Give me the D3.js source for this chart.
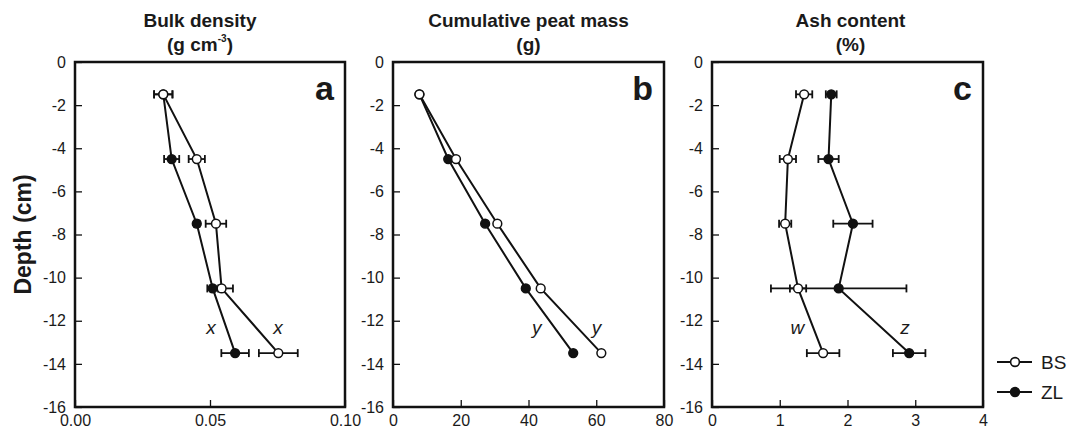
<!DOCTYPE html>
<html>
<head>
<meta charset="utf-8">
<script src="https://cdn.jsdelivr.net/npm/d3@7"></script>
<style>
  body { margin: 0; background: #fff; }
  svg text { font-family: "Liberation Sans", Arial, sans-serif; fill: #1a1a1a; }
</style>
</head>
<body>
<div id="d3-container"></div>
<script>
/**
 * DATA
 * */
const depths = [-1.5, -4.5, -7.5, -10.5, -13.5];
const depthTicks = [0, -2, -4, -6, -8, -10, -12, -14, -16];

const bulkTicks = [0, 0.05, 0.1];
const bulkBS = [0.0327, 0.0451, 0.0522, 0.0543, 0.0753];
const bulkBSErr = [0.0034, 0.003, 0.0038, 0.0042, 0.0072];
const bulkZL = [0.0327, 0.0358, 0.0451, 0.051, 0.0593];
const bulkZLErr = [0.0034, 0.0028, 0.001, 0.002, 0.0051];
const bulkNotes = [{ text: "x", value: 0.0504 }, { text: "x", value: 0.0752 }];

const massTicks = [0, 20, 40, 60, 80];
const massBS = [7.8, 18.6, 30.8, 43.6, 61.5];
const massZL = [7.8, 16.3, 27.2, 39.2, 53.2];
const massNotes = [{ text: "y", value: 42.4 }, { text: "y", value: 60.1 }];

const ashTicks = [0, 1, 2, 3, 4];
const ashBS = [1.36, 1.12, 1.08, 1.27, 1.64];
const ashBSErr = [0.12, 0.12, 0.09, 0.12, 0.24];
const ashZL = [1.76, 1.72, 2.08, 1.87, 2.91];
const ashZLErr = [0.08, 0.15, 0.29, 1.0, 0.24];
const ashNotes = [{ text: "w", value: 1.26 }, { text: "z", value: 2.85 }];

const noteDepth = -12.6;
const seriesNames = ["BS", "ZL"];

/**
 * CONSTANTS
 * */
const width = 1074, height = 431;
const plotTop = 62, plotBottom = 407;
const ink = "#111";

// layout of the three panels
const panels = [
  { letter: "a", title: "Bulk density", unit: "g cm", sup: "-3", left: 75, right: 345, titleShift: -10,
    domain: [0, 0.1], ticks: bulkTicks, fmt: d3.format(".2f"),
    bs: bulkBS, bsErr: bulkBSErr, zl: bulkZL, zlErr: bulkZLErr, notes: bulkNotes },
  { letter: "b", title: "Cumulative peat mass", unit: "g", left: 393, right: 664, titleShift: 0,
    domain: [0, 80], ticks: massTicks, fmt: d => String(d),
    bs: massBS, bsErr: null, zl: massZL, zlErr: null, notes: massNotes },
  { letter: "c", title: "Ash content", unit: "%", left: 712, right: 983, titleShift: 3,
    domain: [0, 4], ticks: ashTicks, fmt: d => String(d),
    bs: ashBS, bsErr: ashBSErr, zl: ashZL, zlErr: ashZLErr, notes: ashNotes }
];

const svg = d3.select("#d3-container")
  .append("svg")
  .attr("width", width)
  .attr("height", height);

const y = d3.scaleLinear().domain([0, -16]).range([plotTop, plotBottom]);

panels.forEach(p => {
  const x = d3.scaleLinear().domain(p.domain).range([p.left, p.right]);
  const g = svg.append("g");

  // axes, ticks pointing inward
  g.append("g")
    .attr("transform", `translate(0,${plotBottom})`)
    .call(d3.axisBottom(x).tickValues(p.ticks).tickFormat(p.fmt)
      .tickSizeInner(-7).tickSizeOuter(0).tickPadding(8))
    .call(a => a.select(".domain").remove())
    .call(a => a.selectAll("line").attr("stroke", ink).attr("stroke-width", 1.3))
    .call(a => a.selectAll("text").attr("font-size", 16).attr("fill", "#1a1a1a"));

  g.append("g")
    .attr("transform", `translate(${p.left},0)`)
    .call(d3.axisLeft(y).tickValues(depthTicks).tickFormat(d => String(d))
      .tickSizeInner(-7).tickSizeOuter(0).tickPadding(9))
    .call(a => a.select(".domain").remove())
    .call(a => a.selectAll("line").attr("stroke", ink).attr("stroke-width", 1.3))
    .call(a => a.selectAll("text").attr("font-size", 16).attr("fill", "#1a1a1a"));

  // frame
  g.append("rect")
    .attr("x", p.left).attr("y", plotTop)
    .attr("width", p.right - p.left).attr("height", plotBottom - plotTop)
    .attr("fill", "none").attr("stroke", ink).attr("stroke-width", 2.5);

  // title
  const cx = (p.left + p.right) / 2 + p.titleShift;
  g.append("text").attr("x", cx).attr("y", 27)
    .attr("text-anchor", "middle").attr("font-size", 19).attr("font-weight", "bold")
    .text(p.title);
  const unit = g.append("text").attr("x", cx).attr("y", 51)
    .attr("text-anchor", "middle").attr("font-size", 19).attr("font-weight", "bold");
  unit.append("tspan").text("(" + p.unit);
  if (p.sup) {
    unit.append("tspan").attr("font-size", 10).attr("dy", -9).text(p.sup);
    unit.append("tspan").attr("dy", 9).text(")");
  } else {
    unit.append("tspan").text(")");
  }

  // panel letter
  g.append("text").attr("x", p.right - 11).attr("y", 100)
    .attr("text-anchor", "end").attr("font-size", 34).attr("font-weight", "bold")
    .text(p.letter);

  // series: ZL drawn first, BS on top
  const series = [
    { name: "ZL", vals: p.zl, err: p.zlErr, fill: ink },
    { name: "BS", vals: p.bs, err: p.bsErr, fill: "#fff" }
  ];
  const line = d3.line().x(d => x(d.v)).y(d => y(d.depth));

  series.forEach(s => {
    const pts = s.vals.map((v, i) => ({ v, depth: depths[i], e: s.err ? s.err[i] : 0 }));

    g.append("path").datum(pts)
      .attr("d", line).attr("fill", "none")
      .attr("stroke", ink).attr("stroke-width", 2);

    if (s.err) {
      const eb = g.append("g").selectAll("g").data(pts).join("g")
        .attr("stroke", ink).attr("stroke-width", 1.8);
      eb.append("line")
        .attr("x1", d => x(d.v - d.e)).attr("x2", d => x(d.v + d.e))
        .attr("y1", d => y(d.depth)).attr("y2", d => y(d.depth));
      eb.append("line")
        .attr("x1", d => x(d.v - d.e)).attr("x2", d => x(d.v - d.e))
        .attr("y1", d => y(d.depth) - 4).attr("y2", d => y(d.depth) + 4);
      eb.append("line")
        .attr("x1", d => x(d.v + d.e)).attr("x2", d => x(d.v + d.e))
        .attr("y1", d => y(d.depth) - 4).attr("y2", d => y(d.depth) + 4);
    }

    g.append("g").selectAll("circle").data(pts).join("circle")
      .attr("cx", d => x(d.v)).attr("cy", d => y(d.depth))
      .attr("r", 4.4)
      .attr("fill", s.fill).attr("stroke", ink).attr("stroke-width", 1.5);
  });

  // significance letters
  g.selectAll("text.note").data(p.notes).join("text")
    .attr("class", "note")
    .attr("x", d => x(d.value)).attr("y", y(noteDepth))
    .attr("text-anchor", "middle").attr("font-size", 19).attr("font-style", "italic")
    .text(d => d.text);
});

// y axis title
svg.append("text")
  .attr("transform", `translate(31,${(plotTop + plotBottom) / 2}) rotate(-90)`)
  .attr("text-anchor", "middle").attr("font-size", 23).attr("font-weight", "bold")
  .text("Depth (cm)");

// legend
const legend = svg.append("g").selectAll("g").data(seriesNames).join("g")
  .attr("transform", (d, i) => `translate(0,${362 + i * 30})`);
legend.append("line")
  .attr("x1", 997).attr("x2", 1032).attr("y1", 0).attr("y2", 0)
  .attr("stroke", ink).attr("stroke-width", 2.2);
legend.append("circle")
  .attr("cx", 1015).attr("cy", 0).attr("r", 4.4)
  .attr("fill", d => d === "BS" ? "#fff" : ink)
  .attr("stroke", ink).attr("stroke-width", 1.6);
legend.append("text")
  .attr("x", 1041).attr("y", 0).attr("dy", "0.35em")
  .attr("font-size", 19)
  .text(d => d);
</script>
</body>
</html>
